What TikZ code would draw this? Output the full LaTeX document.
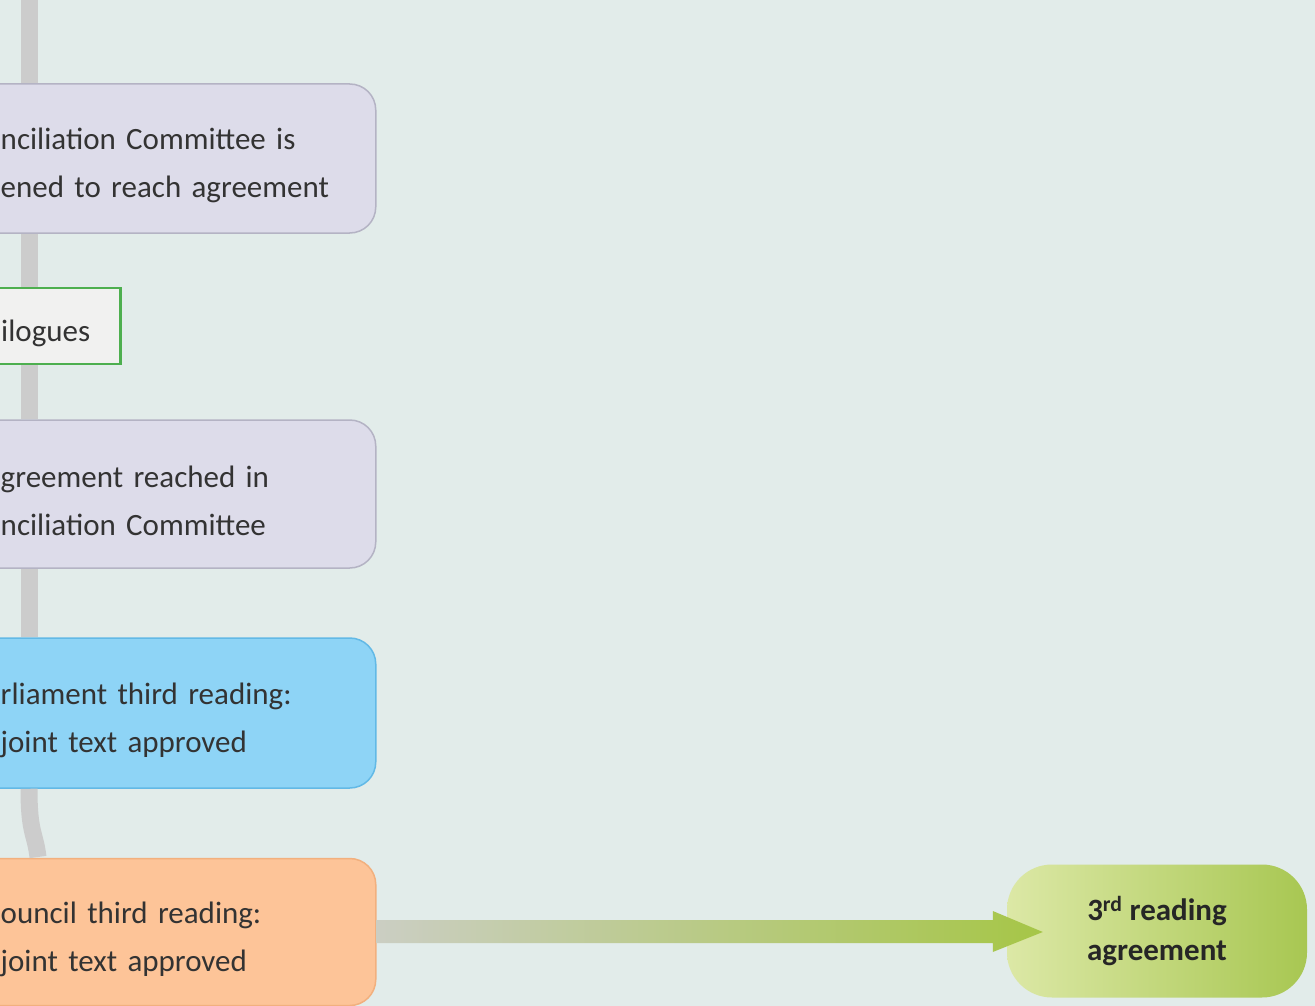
\documentclass[tikz,border=0pt]{standalone}
\usepackage{fontspec}
\setmainfont{Carlito}
\usepackage{xcolor}
\usetikzlibrary{arrows.meta,positioning}
\definecolor{bgteal}{HTML}{E2ECEA}
\definecolor{lavfill}{HTML}{DDDCEA}
\definecolor{lavdraw}{HTML}{B4B3C4}
\definecolor{epfill}{HTML}{8ED4F6}
\definecolor{epdraw}{HTML}{62B9E6}
\definecolor{cofill}{HTML}{FDC498}
\definecolor{codraw}{HTML}{F2B07E}
\definecolor{trifill}{HTML}{F1F1F0}
\definecolor{tridraw}{HTML}{4DAF4F}
\definecolor{resleft}{HTML}{DCE8A6}
\definecolor{resright}{HTML}{A8C752}
\definecolor{shaftleft}{HTML}{CBCEC3}
\definecolor{shaftright}{HTML}{A6C647}
\begin{document}
\begin{tikzpicture}[x=1pt, y=-1pt,
    font=\fontsize{31}{48}\selectfont,
    box/.style={draw, rounded corners=26pt, line width=1.5pt, anchor=west, align=left, inner xsep=40pt, inner ysep=0pt, text=black!80, execute at begin node={\rule{0pt}{36pt}}},
    stage/.style={box, fill=lavfill, draw=lavdraw},
    parl/.style={box, fill=epfill, draw=epdraw},
    coun/.style={box, fill=cofill, draw=codraw},
    tribox/.style={box, sharp corners, fill=trifill, draw=tridraw, line width=2.5pt, inner xsep=25pt},
    result/.style={rounded corners=45pt, left color=resleft, right color=resright, align=center, text=black!85, font=\bfseries\fontsize{31}{40}\selectfont},
    spine/.style={line width=17pt, black!20},
    bigarrow/.style={left color=shaftleft, right color=shaftright}
]
\useasboundingbox (0,0) rectangle (1315,1006);
\fill[bgteal] (0,0) rectangle (1315,1006);
\clip (0,0) rectangle (1315,1006);

\coordinate (top) at (29,0);
\coordinate (land) at (38,857);

\node[stage, text width=335pt, minimum height=149pt] (convene) at (-40,158.5) {nciliation Committee is\\ened to reach agreement};
\node[tribox, text width=94pt, minimum height=76pt] (trilog) at (-25,326) {ilogues};
\node[stage, text width=335pt, minimum height=148pt] (reached) at (-40,494) {greement reached in\\nciliation Committee};
\node[parl, text width=335pt, minimum height=150pt] (ep3) at (-40,713) {rliament third reading:\\joint text approved};
\node[coun, text width=335pt, minimum height=147pt] (co3) at (-40,932) {ouncil third reading:\\joint text approved};
\node[result, minimum width=300pt, minimum height=133pt] (agree) at (1157,931) {3\textsuperscript{rd} reading\\agreement};

\draw[spine] (top) -- (top |- convene.north);
\draw[spine] (top |- convene.south) -- (top |- trilog.north);
\draw[spine] (top |- trilog.south) -- (top |- reached.north);
\draw[spine] (top |- reached.south) -- (top |- ep3.north);
\draw[spine] (top |- ep3.south) .. controls +(0,45) and +(-3,-25) .. (land);

\coordinate (shaft) at (co3.east |- agree.west);
\shade[bigarrow] ([yshift=11pt]shaft) -- ([xshift=-14pt,yshift=11pt]agree.west) -- ([xshift=-14pt,yshift=20pt]agree.west)
    -- ([xshift=36pt,yshift=-1pt]agree.west) -- ([xshift=-14pt,yshift=-21pt]agree.west) -- ([xshift=-14pt,yshift=-12pt]agree.west)
    -- ([yshift=-12pt]shaft) -- cycle;
\end{tikzpicture}
\end{document}
